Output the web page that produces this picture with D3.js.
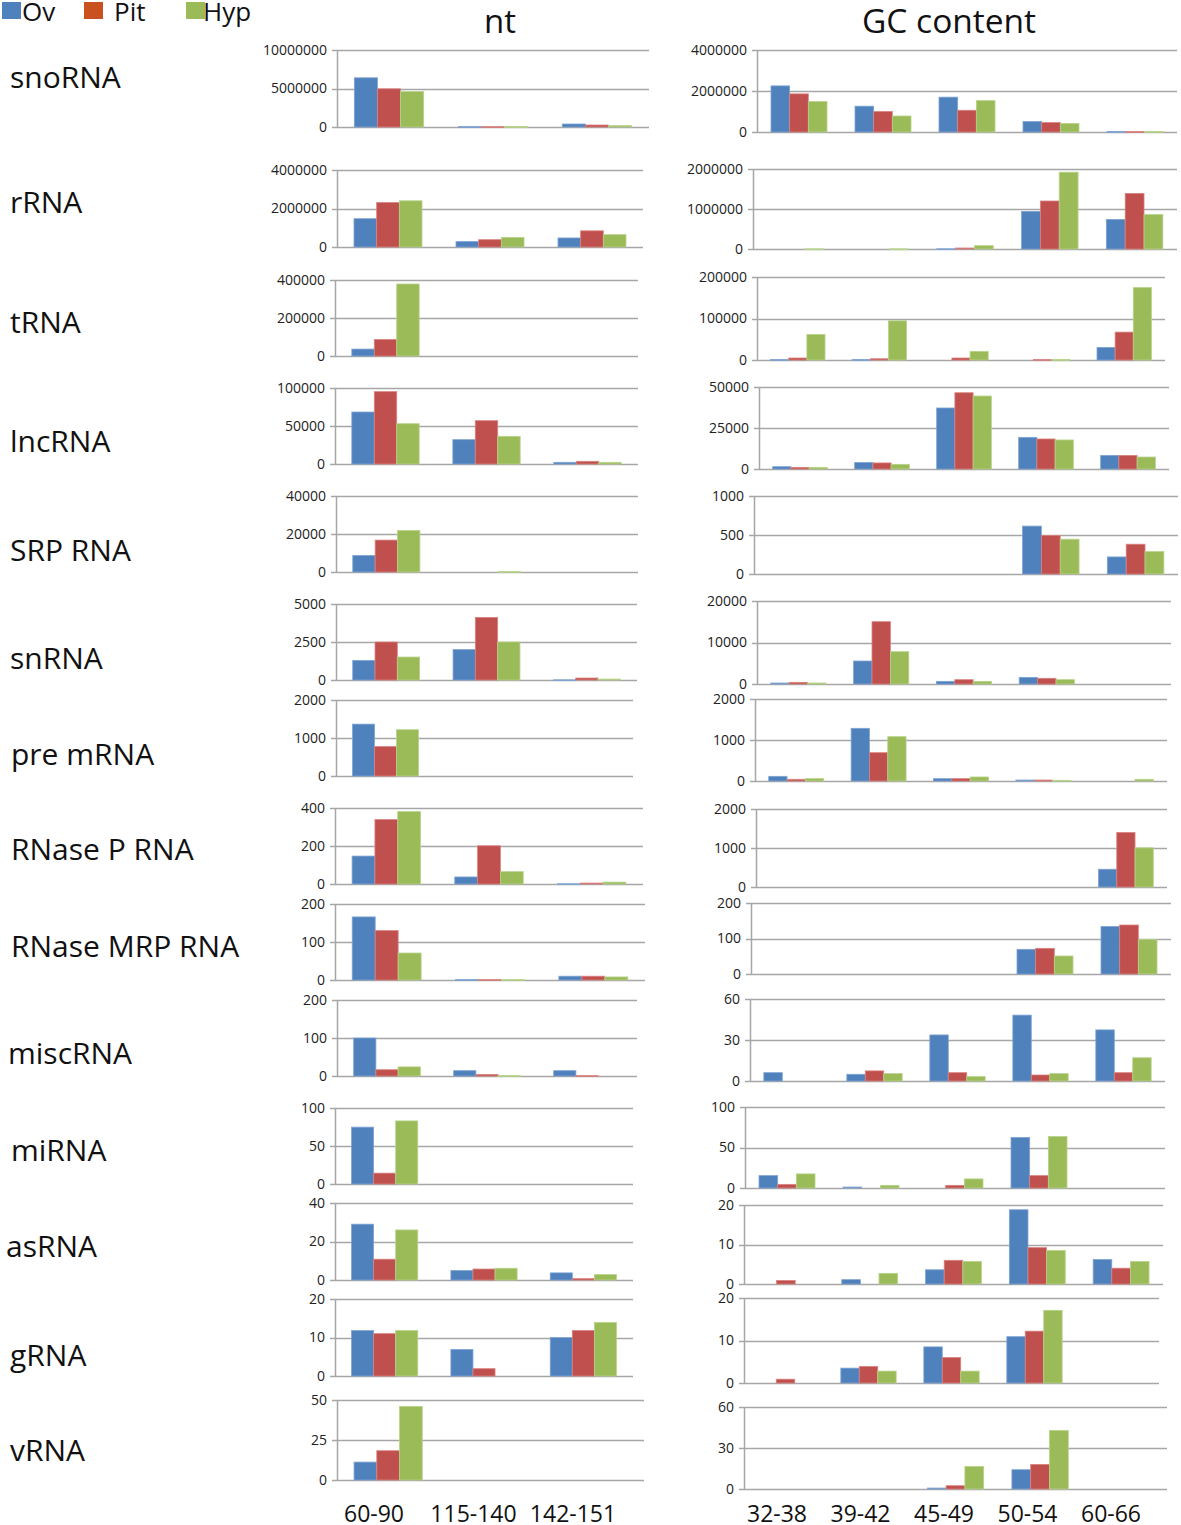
<!DOCTYPE html>
<html>
<head>
<meta charset="utf-8">
<script src="https://cdn.jsdelivr.net/npm/d3@7"></script>
<style>
  html, body { margin: 0; padding: 0; background: #fff; }
  svg { display: block; font-family: "Open Sans", sans-serif; }
</style>
</head>
<body>
<svg id="chart" width="1181" height="1525"></svg>
<script>
// ---------------- DATA ----------------
const seriesNames = ["Ov", "Pit", "Hyp"];
const ntCategories = ["60-90", "115-140", "142-151"];
const gcCategories = ["32-38", "39-42", "45-49", "50-54", "60-66"];
const rowNames = ["snoRNA", "rRNA", "tRNA", "lncRNA", "SRP RNA", "snRNA", "pre mRNA",
  "RNase P RNA", "RNase MRP RNA", "miscRNA", "miRNA", "asRNA", "gRNA", "vRNA"];

// axis maxima (ticks: 0, max/2, max)
const ntAxisMax = [10000000, 4000000, 400000, 100000, 40000, 5000, 2000, 400, 200, 200, 100, 40, 20, 50];
const gcAxisMax = [4000000, 2000000, 200000, 50000, 1000, 20000, 2000, 2000, 200, 60, 100, 20, 20, 60];

// nt values per row: [Ov, Pit, Hyp] for each of 60-90, 115-140, 142-151
const ntOv  = [[6390000, 50000, 390000], [1470000, 280000, 470000], [36500, 0, 0], [68400, 32000, 2200],
  [8700, 0, 0], [1290, 2000, 10], [1365, 0, 0], [147, 37, 1], [166, 1, 10], [100, 14, 14],
  [74.8, 0, 0], [29, 4.9, 3.7], [11.8, 6.9, 10], [11.2, 0, 0]];
const ntPit = [[4960000, 50000, 260000], [2310000, 380000, 840000], [87000, 0, 0], [95200, 57000, 3500],
  [16800, 0, 0], [2500, 4120, 130], [774, 0, 0], [339, 201, 5], [130, 1, 10], [16.5, 4, 1],
  [14.3, 0, 0], [10.8, 5.7, 0.7], [11, 1.9, 11.8], [18.3, 0, 0]];
const ntHyp = [[4600000, 50000, 170000], [2400000, 500000, 640000], [379000, 0, 0], [53000, 36400, 2200],
  [21800, 200, 0], [1510, 2500, 60], [1217, 0, 0], [381, 65, 10], [71, 1, 8], [24, 1, 0],
  [83, 0, 0], [26, 6.1, 2.8], [11.8, 0, 13.9], [46, 0, 0]];

// GC values per row: [32-38, 39-42, 45-49, 50-54, 60-66]
const gcOv  = [[2250000, 1260000, 1700000, 510000, 20000], [0, 0, 5000, 940000, 740000],
  [1000, 1000, 0, 0, 30400], [1400, 4000, 37200, 19300, 8300], [0, 0, 0, 614, 219],
  [240, 5540, 640, 1600, 0], [114, 1285, 57, 24, 0], [0, 0, 0, 0, 455], [0, 0, 0, 69.5, 134],
  [6.1, 4.9, 33.7, 48.2, 37.4], [15.3, 1.2, 0, 62.4, 0], [0, 1.1, 3.6, 18.8, 6.2],
  [0, 3.5, 8.5, 10.9, 0], [0, 0, 0.7, 14.1, 0]];
const gcPit = [[1860000, 1000000, 1060000, 460000, 20000], [0, 0, 25000, 1200000, 1390000],
  [4800, 3000, 4800, 1000, 67200], [1000, 3700, 46500, 18300, 8300], [0, 0, 0, 494, 382],
  [400, 15020, 1040, 1370, 0], [41, 691, 57, 24, 0], [0, 0, 0, 0, 1399], [0, 0, 0, 72.3, 138],
  [0, 7.4, 6.1, 4.4, 6.1], [4.5, 0, 3.3, 15.3, 0], [0.9, 0, 6.0, 9.2, 4.0],
  [0.9, 3.9, 6.0, 12.2, 0], [0, 0, 2.4, 18, 0]];
const gcHyp = [[1490000, 780000, 1530000, 420000, 20000], [3000, 3000, 83000, 1920000, 860000],
  [61600, 94400, 20800, 1000, 174400], [1000, 2850, 44500, 17700, 7300], [0, 0, 0, 446, 288],
  [240, 7790, 640, 1040, 0], [57, 1081, 98, 16, 41], [0, 0, 0, 0, 1004], [0, 0, 0, 50.7, 96.7],
  [0, 5.4, 3.2, 5.4, 17], [17.4, 3.3, 11.2, 63.6, 0], [0, 2.7, 5.7, 8.5, 5.7],
  [0, 2.8, 2.8, 17.1, 0], [0, 0, 16.5, 42.8, 0]];

// ---------------- LAYOUT (positions only) ----------------
const ntLayout = [
  {top: 50, zero: 127, x0: 337, x1: 649}, {top: 170, zero: 247, x0: 337, x1: 643},
  {top: 280, zero: 356, x0: 335, x1: 638}, {top: 388, zero: 464, x0: 335, x1: 638},
  {top: 496, zero: 572, x0: 336, x1: 638}, {top: 604, zero: 680, x0: 336, x1: 637},
  {top: 700, zero: 776, x0: 336, x1: 633}, {top: 808, zero: 884, x0: 335, x1: 643},
  {top: 904, zero: 980, x0: 335, x1: 645}, {top: 1000, zero: 1076, x0: 337, x1: 637},
  {top: 1108, zero: 1184, x0: 335, x1: 633}, {top: 1203, zero: 1280, x0: 335, x1: 633},
  {top: 1299, zero: 1376, x0: 335, x1: 633}, {top: 1400, zero: 1480, x0: 337, x1: 644}
];
const gcLayout = [
  {top: 50, zero: 132, x0: 757, x1: 1177}, {top: 169, zero: 249, x0: 753, x1: 1177},
  {top: 277, zero: 360, x0: 757, x1: 1165}, {top: 387, zero: 469, x0: 759, x1: 1169},
  {top: 496, zero: 574, x0: 754, x1: 1178}, {top: 601, zero: 684, x0: 757, x1: 1171},
  {top: 699, zero: 781, x0: 755, x1: 1167}, {top: 809, zero: 887, x0: 756, x1: 1167},
  {top: 903, zero: 974, x0: 751, x1: 1171}, {top: 999, zero: 1081, x0: 750, x1: 1165},
  {top: 1107, zero: 1188, x0: 745, x1: 1165}, {top: 1205, zero: 1284, x0: 744, x1: 1163},
  {top: 1298, zero: 1383, x0: 744, x1: 1159}, {top: 1407, zero: 1489, x0: 744, x1: 1167}
];
const rowLabelLayout = [
  {x: 10, y: 88}, {x: 10, y: 213}, {x: 10, y: 333}, {x: 10, y: 452}, {x: 10, y: 561},
  {x: 10, y: 669}, {x: 11, y: 765}, {x: 11, y: 860}, {x: 11, y: 957}, {x: 8, y: 1064},
  {x: 11, y: 1161}, {x: 6, y: 1257}, {x: 10, y: 1366}, {x: 10, y: 1461}
];
// bottom label row: centre of first and last label
const ntLabelRange = [374, 573];
const gcLabelRange = [777, 1111];

const barFill   = {Ov: "#4F81BD", Pit: "#C0504D", Hyp: "#9BBB59"};
const barStroke = {Ov: "#7FA4D3", Pit: "#D98380", Hyp: "#B7D38A"};
const legendFill = {Ov: "#4F81BD", Pit: "#C9501F", Hyp: "#9BBB59"};
const gridColor = "#a6a6a6";

const svg = d3.select("#chart");
const fmt = d3.format("d");

function drawPanel(L, axisMax, cats, ov, pit, hyp) {
  const g = svg.append("g");
  const y = d3.scaleLinear().domain([0, axisMax]).range([L.zero, L.top]);
  const x = d3.scaleBand().domain(cats).range([L.x0, L.x1]).paddingInner(0).paddingOuter(0);
  const xs = d3.scaleBand().domain(seriesNames).range([0, x.bandwidth()]).paddingInner(0).paddingOuter(0.75);
  const ticks = [0, axisMax / 2, axisMax];

  // gridlines
  g.selectAll("line.grid").data(ticks).join("line")
    .attr("x1", L.x0 - 5).attr("x2", L.x1)
    .attr("y1", d => Math.round(y(d)) + 0.5).attr("y2", d => Math.round(y(d)) + 0.5)
    .attr("stroke", gridColor).attr("stroke-width", 1.5);

  // y axis labels via d3 axis
  const axis = d3.axisLeft(y).tickValues(ticks).tickFormat(fmt).tickSize(0).tickPadding(10);
  const ag = g.append("g").attr("transform", `translate(${L.x0},0)`).call(axis);
  ag.select(".domain").remove();
  ag.selectAll("text").attr("font-size", 14).attr("fill", "#222")
    .attr("font-family", "'Open Sans', sans-serif");

  // bars
  const rows = [];
  cats.forEach((c, i) => {
    rows.push({cat: c, s: "Ov", v: ov[i]});
    rows.push({cat: c, s: "Pit", v: pit[i]});
    rows.push({cat: c, s: "Hyp", v: hyp[i]});
  });
  g.selectAll("rect.bar").data(rows.filter(d => d.v > 0)).join("rect")
    .attr("x", d => x(d.cat) + xs(d.s))
    .attr("width", xs.bandwidth())
    .attr("y", d => y(d.v))
    .attr("height", d => Math.max(0.8, L.zero - y(d.v)))
    .attr("fill", d => barFill[d.s])
    .attr("stroke", d => barStroke[d.s])
    .attr("stroke-width", 0.8);

  // vertical axis line
  g.append("line").attr("x1", L.x0 + 0.5).attr("x2", L.x0 + 0.5)
    .attr("y1", L.top).attr("y2", L.zero)
    .attr("stroke", gridColor).attr("stroke-width", 1.5);
}

rowNames.forEach((name, r) => {
  drawPanel(ntLayout[r], ntAxisMax[r], ntCategories, ntOv[r], ntPit[r], ntHyp[r]);
  drawPanel(gcLayout[r], gcAxisMax[r], gcCategories, gcOv[r], gcPit[r], gcHyp[r]);
  svg.append("text").attr("x", rowLabelLayout[r].x).attr("y", rowLabelLayout[r].y)
    .attr("font-size", 30).attr("fill", "#111").text(name);
});

// bottom category labels
const ntLabelX = d3.scalePoint().domain(ntCategories).range(ntLabelRange);
const gcLabelX = d3.scalePoint().domain(gcCategories).range(gcLabelRange);
svg.append("g").selectAll("text").data(ntCategories).join("text")
  .attr("x", d => ntLabelX(d)).attr("y", 1522)
  .attr("text-anchor", "middle").attr("font-size", 23).attr("fill", "#111").text(d => d);
svg.append("g").selectAll("text").data(gcCategories).join("text")
  .attr("x", d => gcLabelX(d)).attr("y", 1522)
  .attr("text-anchor", "middle").attr("font-size", 23).attr("fill", "#111").text(d => d);

// column titles
svg.append("text").attr("x", 500).attr("y", 33).attr("text-anchor", "middle")
  .attr("font-size", 33).attr("fill", "#111").text("nt");
svg.append("text").attr("x", 949).attr("y", 33).attr("text-anchor", "middle")
  .attr("font-size", 33.5).attr("fill", "#111").text("GC content");

// legend
const legendX = [2, 84, 186];
const legendTextX = [22, 114, 203];
seriesNames.forEach((s, i) => {
  svg.append("rect").attr("x", legendX[i]).attr("y", 2).attr("width", 19).attr("height", 17)
    .attr("fill", legendFill[s]);
  svg.append("text").attr("x", legendTextX[i]).attr("y", 21).attr("font-size", 26)
    .attr("fill", "#111").text(s);
});
</script>
</body>
</html>
